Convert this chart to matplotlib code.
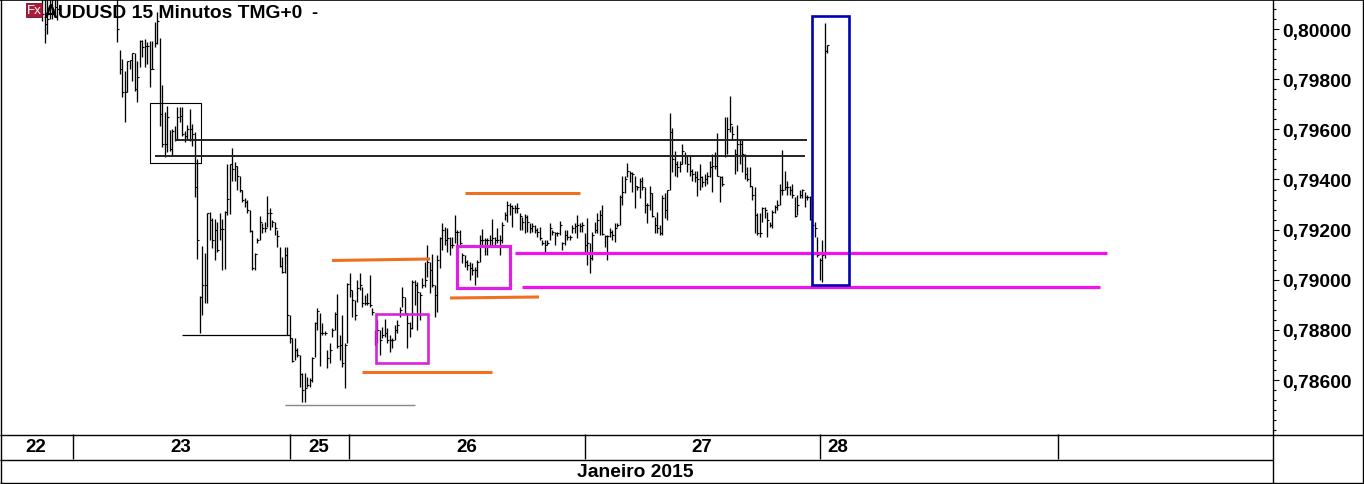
import numpy as np
import matplotlib
matplotlib.use("Agg")
import matplotlib.pyplot as plt
from matplotlib.lines import Line2D
from matplotlib.patches import Rectangle
from matplotlib.ticker import FuncFormatter, MultipleLocator

plt.rcParams["font.family"] = ["Liberation Sans", "DejaVu Sans"]

W, H = 1364, 485

# AUDUSD 15 min bars, prices in 1/100000, nan = bars above the visible range
highs = [80150, 80150, 80150, 80150, 80150, 80150, 80150] + [np.nan] * 23 + [
    80120, 79916, 79880, 79832, 79872, 79876, 79904, 79904, 79872, 79956, 79956, 79960, 79948, 79952, 79952, 80028, 80068,
    79964, 79776, 79668, 79692, 79596, 79600, 79612, 79688, 79688, 79688, 79592, 79616, 79680, 79620, 79588, 79480,
    78936, 79136, 79108, 79268, 79272, 79248, 79244, 79232, 79268, 79244, 79276, 79460, 79460, 79524, 79468, 79452,
    79412, 79360, 79328, 79320, 79280, 79200, 79108, 79168, 79256, 79228, 79232, 79336, 79288, 79240, 79232, 79200,
    79132, 79092, 79132, 79132, 78860, 78768, 78768, 78728, 78700, 78628, 78628, 78612, 78608, 78692, 78832, 78888,
    78868, 78828, 78796, 78720, 78748, 78808, 78872, 78944, 78780, 78860, 78748, 78988, 79028, 78960, 78920, 79000,
    79028, 78972, 78940, 78948, 79020, 78888, 78800, 78840, 78800, 78812, 78844, 78808, 78780, 78768, 78820, 78840,
    78892, 78972, 78932, 78868, 78832, 79000, 79000, 78992, 78952, 79008, 79072, 79140, 79072, 79104, 78980, 79100,
    79172, 79228, 79212, 79208, 79172, 79172, 79260, 79200, 79200, 79108, 79100, 79080, 79072, 79068, 79052, 79080,
    79180, 79204, 79168, 79168, 79180, 79244, 79172, 79208, 79180, 79232, 79272, 79316, 79308, 79300, 79300, 79308,
    79268, 79252, 79264, 79260, 79228, 79228, 79220, 79208, 79212, 79160, 79160, 79160, 79228, 79200, 79192, 79192,
    79236, 79152, 79200, 79200, 79180, 79220, 79228, 79260, 79228, 79232, 79188, 79248, 79148, 79192, 79232, 79268,
    79280, 79300, 79180, 79180, 79208, 79200, 79228, 79228, 79340, 79412, 79412, 79464, 79432, 79428, 79412, 79372,
    79404, 79408, 79368, 79308, 79372, 79348, 79252, 79272, 79220, 79340, 79348, 79360, 79664, 79604, 79512, 79472,
    79472, 79540, 79508, 79492, 79492, 79440, 79432, 79432, 79460, 79412, 79420, 79428, 79472, 79500, 79508, 79584,
    79412, 79412, 79648, 79648, 79732, 79612, 79520, 79616, 79560, 79560, 79500, 79448, 79448, 79372, 79368, 79268,
    79268, 79292, 79292, 79272, 79232, 79280, 79300, 79320, 79380, 79516, 79432, 79392, 79372, 79380, 79332, 79340,
    79360, 79364, 79352, 79340, 79336, 79232, 79232, 79172, 79088, 79160, 80024, 79936]
lows = [80032, 79944, 79980, 80040, 80040, 80060, 80036] + [np.nan] * 23 + [
    79948, 79820, 79728, 79628, 79748, 79840, 79792, 79752, 79708, 79848, 79888, 79848, 79860, 79768, 79840, 79928, 79940,
    79612, 79528, 79488, 79508, 79512, 79496, 79552, 79560, 79628, 79572, 79548, 79560, 79552, 79532, 79332, 79084,
    78788, 78860, 78908, 78908, 79160, 79128, 79080, 79112, 79160, 79040, 79044, 79260, 79264, 79392, 79392, 79360,
    79352, 79312, 79292, 79268, 79192, 79040, 79040, 79148, 79160, 79188, 79192, 79212, 79200, 79212, 79180, 79132,
    79052, 79028, 79028, 78780, 78748, 78672, 78680, 78692, 78572, 78512, 78512, 78572, 78572, 78592, 78692, 78800,
    78656, 78780, 78780, 78648, 78668, 78772, 78800, 78728, 78680, 78652, 78568, 78748, 78932, 78852, 78840, 78912,
    78960, 78892, 78900, 78900, 78892, 78860, 78740, 78748, 78700, 78768, 78772, 78748, 78712, 78728, 78760, 78788,
    78852, 78892, 78868, 78728, 78772, 78804, 78900, 78800, 78840, 78968, 78972, 79012, 78948, 78972, 78852, 78872,
    79048, 79120, 79140, 79112, 79100, 79128, 79148, 79128, 79140, 79068, 79052, 79040, 79000, 79020, 78980, 79012,
    79072, 79132, 79100, 79100, 79132, 79132, 79132, 79148, 79100, 79148, 79240, 79232, 79260, 79212, 79268, 79268,
    79200, 79200, 79188, 79192, 79188, 79192, 79188, 79172, 79160, 79140, 79112, 79140, 79160, 79180, 79140, 79176,
    79180, 79120, 79140, 79160, 79160, 79188, 79188, 79168, 79192, 79192, 79108, 79060, 79028, 79080, 79188, 79188,
    79180, 79180, 79132, 79080, 79172, 79160, 79152, 79212, 79220, 79300, 79348, 79408, 79388, 79352, 79288, 79360,
    79328, 79360, 79268, 79228, 79280, 79252, 79188, 79188, 79180, 79180, 79248, 79240, 79360, 79428, 79412, 79408,
    79428, 79460, 79460, 79428, 79412, 79392, 79388, 79336, 79360, 79368, 79372, 79380, 79408, 79352, 79440, 79412,
    79312, 79372, 79488, 79500, 79588, 79560, 79420, 79432, 79460, 79428, 79400, 79392, 79368, 79320, 79188, 79180,
    79172, 79232, 79248, 79172, 79212, 79208, 79268, 79280, 79300, 79340, 79360, 79340, 79340, 79328, 79252, 79260,
    79328, 79328, 79292, 79320, 79240, 79172, 79172, 79092, 79000, 78992, 79088, 79904]
closes = [80060, 80020, 80040, 80100, 80080, 80088, 80080] + [np.nan] * 23 + [
    80000, 79840, 79748, 79748, 79872, 79876, 79904, 79760, 79808, 79952, 79928, 79932, 79932, 79840, 79840, 79944, 80032,
    79660, 79540, 79540, 79648, 79520, 79592, 79560, 79648, 79652, 79580, 79572, 79600, 79600, 79580, 79368, 79160,
    78932, 78980, 78980, 79268, 79240, 79160, 79200, 79120, 79204, 79204, 79272, 79324, 79460, 79440, 79452, 79412,
    79360, 79320, 79312, 79280, 79196, 79048, 79104, 79160, 79232, 79208, 79208, 79268, 79268, 79232, 79208, 79176,
    79056, 79032, 79100, 78860, 78768, 78676, 78720, 78700, 78624, 78560, 78568, 78580, 78600, 78688, 78828, 78876,
    78788, 78788, 78788, 78688, 78720, 78800, 78864, 78736, 78740, 78668, 78740, 78984, 78960, 78920, 78860, 78968,
    78980, 78908, 78908, 78908, 78900, 78872, 78740, 78800, 78760, 78780, 78788, 78760, 78760, 78760, 78800, 78820,
    78880, 78932, 78868, 78828, 78808, 78992, 78980, 78952, 78940, 78980, 79000, 79072, 79040, 78980, 78940, 79080,
    79168, 79200, 79160, 79168, 79140, 79140, 79192, 79192, 79148, 79100, 79072, 79060, 79048, 79040, 79040, 79072,
    79160, 79160, 79160, 79160, 79160, 79168, 79160, 79160, 79160, 79220, 79260, 79300, 79296, 79288, 79288, 79288,
    79256, 79232, 79252, 79232, 79208, 79216, 79200, 79192, 79168, 79148, 79140, 79148, 79208, 79192, 79188, 79188,
    79220, 79148, 79180, 79172, 79172, 79208, 79216, 79220, 79216, 79220, 79140, 79148, 79088, 79180, 79200, 79240,
    79260, 79184, 79176, 79176, 79192, 79180, 79208, 79220, 79332, 79352, 79400, 79432, 79424, 79420, 79372, 79368,
    79392, 79368, 79300, 79300, 79348, 79256, 79220, 79208, 79188, 79328, 79280, 79360, 79588, 79480, 79460, 79448,
    79460, 79512, 79492, 79460, 79432, 79420, 79408, 79400, 79408, 79388, 79400, 79412, 79448, 79452, 79452, 79412,
    79408, 79380, 79492, 79600, 79620, 79580, 79500, 79540, 79540, 79500, 79420, 79400, 79372, 79340, 79260, 79188,
    79188, 79288, 79280, 79240, 79220, 79272, 79292, 79300, 79360, 79360, 79368, 79368, 79360, 79340, 79256, 79300,
    79340, 79360, 79332, 79332, 79244, 79220, 79208, 79100, 79080, 79100, 79912, 79936]

y_ticks = [0.80000, 0.79800, 0.79600, 0.79400, 0.79200, 0.79000, 0.78800, 0.78600]
day_labels = ["22", "23", "25", "26", "27", "28"]
day_label_px = [36, 181, 319, 467, 702, 838]
day_lines_px = [73, 290, 349, 585, 820, 1058]
month_label = "Janeiro 2015"
chart_title = "AUDUSD 15 Minutos TMG+0"

highs = np.array(highs) / 1e5
lows = np.array(lows) / 1e5
closes = np.array(closes) / 1e5
bars = np.arange(len(highs))

bar_step = 2.5
first_bar_px = 42


def fx(x):
    return x / W


def fy(y):
    return 1 - y / H


def line(x0, y0, x1, y1, color="black", lw=1.0):
    fig.add_artist(Line2D([fx(x0), fx(x1)], [fy(y0), fy(y1)], color=color, lw=lw, solid_capstyle="butt", zorder=5))


def box(x0, y0, x1, y1, color, lw):
    fig.add_artist(Rectangle((fx(x0), fy(y1)), (x1 - x0) / W, (y1 - y0) / H, fill=False, edgecolor=color, lw=lw, zorder=5))


fig = plt.figure(figsize=(W / 100, H / 100), dpi=100)
ax = fig.add_axes([0, fy(435), 1273 / W, 435 / H])

ax.vlines(bars, lows, highs, color="black", lw=0.95, snap=True)
ax.hlines(closes, bars, bars + 0.85, color="black", lw=0.8, snap=True)

ax.set_xlim(-first_bar_px / bar_step, (1273 - first_bar_px) / bar_step)
ax.set_ylim(0.78385, 0.801197)

ax.yaxis.tick_right()
ax.set_yticks(y_ticks)
ax.yaxis.set_minor_locator(MultipleLocator(0.0004))
ax.yaxis.set_major_formatter(FuncFormatter(lambda v, p: ("%.5f" % v).replace(".", ",")))
ax.tick_params(axis="y", which="major", length=4.5, width=0.8, pad=2, labelsize=13.9)
ax.tick_params(axis="y", which="minor", length=1.8, width=0.8)
for lab in ax.get_yticklabels():
    lab.set_fontweight("bold")
ax.set_xticks([])
for s in ax.spines.values():
    s.set_visible(False)

# outer frame and date strip
line(0, 0.5, W, 0.5, lw=1.2)
line(W - 0.7, 0, W - 0.7, H)
line(0.5, 0, 0.5, H)
line(0, H - 0.7, W, H - 0.7)
line(0, 435.5, W, 435.5)
line(0, 460.5, 1273, 460.5)
line(1273, 0, 1273, H)
for x in day_lines_px:
    line(x, 435, x, 460)
for x, lab in zip(day_label_px, day_labels):
    fig.text(fx(x), fy(448), lab, ha="center", va="center", fontsize=13.5, fontweight="bold")
fig.text(fx(635.5), fy(472.5), month_label, ha="center", va="center", fontsize=13.9, fontweight="bold")

# title with the small Fx icon
fig.add_artist(Rectangle((fx(26), fy(18)), 16 / W, 14 / H, facecolor="#a81c3a", edgecolor="#701020", lw=0.6, zorder=6))
fig.text(fx(34), fy(11.5), "Fx", ha="center", va="center", fontsize=9.5, color="white", zorder=7)
fig.text(fx(44), fy(14), chart_title, ha="left", va="center", fontsize=13.9, fontweight="bold", zorder=7)
fig.text(fx(311), fy(14), "-", ha="left", va="center", fontsize=13, fontweight="bold", zorder=7)

# hand drawn annotations
box(150, 104, 201, 164, "black", 0.8)
line(175, 140.5, 807, 140.5, "#222222", 1.4)
line(155, 156.5, 805, 156.5, "#222222", 1.4)
line(182, 336, 290, 336, "black", 0.9)
line(285, 406, 415, 406, "#888888", 1.0)

line(332, 261.5, 430, 260, "#f07020", 2.2)
line(465, 194, 580, 194, "#f07020", 2.2)
line(362, 372.5, 492, 372.5, "#f07020", 2.2)
line(450, 299, 539, 298, "#f07020", 2.2)

box(376, 315, 428, 364, "#d824d8", 1.9)
box(457, 247, 510, 289, "#e020e0", 2.3)
line(515, 253.5, 1107, 253.5, "#f010f0", 2.3)
line(522, 287.5, 1100, 287.5, "#f010f0", 2.3)

box(812, 17, 849, 286, "#0000b4", 1.9)

fig.savefig("out.png", dpi=100)
